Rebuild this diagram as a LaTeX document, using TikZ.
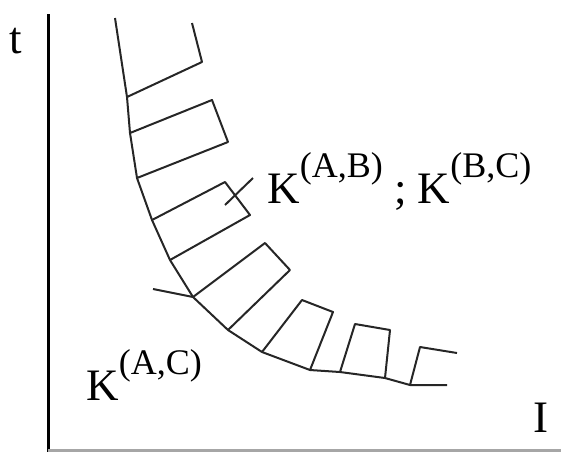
\documentclass[tikz,border=0pt]{standalone}
\usepackage{fontspec}
\setmainfont{Liberation Serif}
\newcommand{\kpair}[1]{K\raisebox{13pt}{\fontsize{18}{18}\selectfont(#1)}}

\begin{document}
\begin{tikzpicture}[x=0.5pt,y=-0.5pt,every node/.style={font=\fontsize{22.5}{27}\selectfont,inner sep=0pt},ink/.style={draw=black!85,line width=1pt,line join=round},axis/.style={line width=1.5pt}]
\useasboundingbox (0,0) rectangle (561,452);
\draw[axis] (48,14) -- (48,452);
\draw[axis,draw=black!35] (48,450) -- (561,450);
\node[anchor=base] (tl) at (16,53) {t};
\node[anchor=base] (il) at (541,432) {I};
\coordinate (c0) at (115,18);
\coordinate (c1) at (127,97);
\coordinate (c2) at (130,133);
\coordinate (c3) at (137,178);
\coordinate (c4) at (152,220);
\coordinate (c5) at (170,260);
\coordinate (c6) at (193,297);
\coordinate (c7) at (228,330);
\coordinate (c8) at (262,352);
\coordinate (c9) at (310,370);
\coordinate (c10) at (340,372);
\coordinate (c11) at (385,378);
\coordinate (c12) at (410,385);
\coordinate (c13) at (447,385);
\draw[ink] (c0) -- (c1) -- (c2) -- (c3) -- (c4) -- (c5) -- (c6) -- (c7) -- (c8) -- (c9) -- (c10) -- (c11) -- (c12) -- (c13);
\draw[ink] (c1) -- (202,62) -- (192,23);
\draw[ink] (c2) -- (212,100) -- (228,142) -- (c3);
\draw[ink] (c4) -- (225,182) -- (250,215) -- (c5);
\draw[ink] (c6) -- (265,243) -- (290,270) -- (c7);
\draw[ink] (c8) -- (302,300) -- (333,312) -- (c9);
\draw[ink] (c10) -- (355,324) -- (390,330) -- (c11);
\draw[ink] (c12) -- (420,347) -- (457,353);
\draw[ink] (225,205) -- (253,178);
\draw[ink] (153,289) -- (c6);
\node[anchor=base west] (kab) at (267,203) {\kpair{A,B} ; \kpair{B,C}};
\node[anchor=base west] (kac) at (86,400) {\kpair{A,C}};
\end{tikzpicture}
\end{document}
